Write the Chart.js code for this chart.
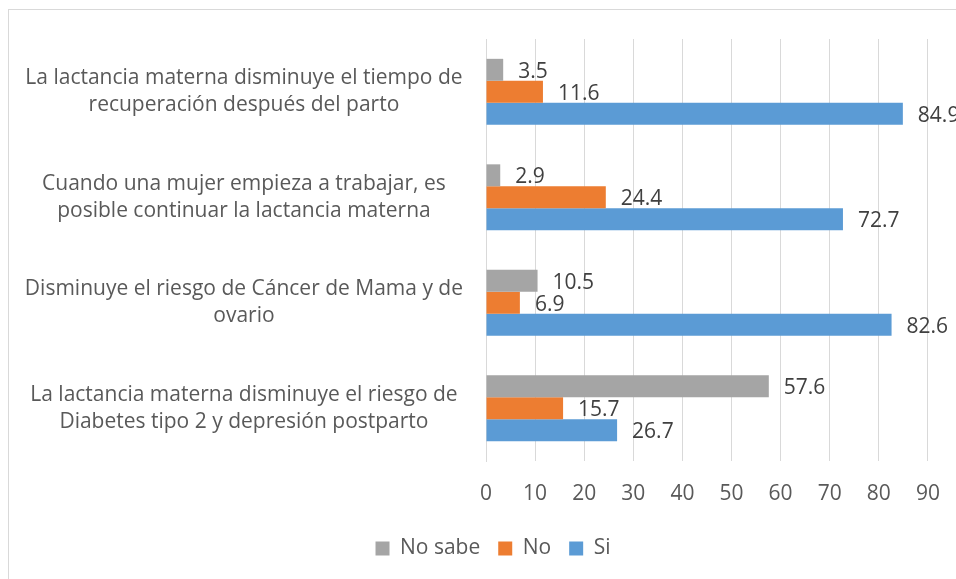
<!DOCTYPE html>
<html>
<head>
<meta charset="utf-8">
<script src="https://cdn.jsdelivr.net/npm/chart.js@4/dist/chart.umd.min.js"></script>
<style>
  html, body { margin: 0; padding: 0; overflow: hidden; background: #ffffff; width: 956px; height: 579px; }
  #frame { position: absolute; left: 8px; top: 9px; width: 968px; height: 600px; border: 1px solid #D9D9D9; background: #fff; }
  #wrap { position: absolute; left: 0; top: 0; width: 968px; height: 559px; }
</style>
</head>
<body>
<div id="frame"><div id="wrap"><canvas id="c"></canvas></div></div>
<script>
const categories = [
  ["La lactancia materna disminuye el tiempo de", "recuperación después del parto"],
  ["Cuando una mujer empieza a trabajar, es", "posible continuar la lactancia materna"],
  ["Disminuye el riesgo de Cáncer de Mama y de", "ovario"],
  ["La lactancia materna disminuye el riesgo de", "Diabetes tipo 2 y depresión postparto"]
];
const seriesNames = ["No sabe", "No", "Si"];
const noSabe = [3.5, 2.9, 10.5, 57.6];
const no = [11.6, 24.4, 6.9, 15.7];
const si = [84.9, 72.7, 82.6, 26.7];
const xTicks = [0, 10, 20, 30, 40, 50, 60, 70, 80, 90];
const colors = ["#A5A5A5", "#ED7D31", "#5B9BD5"];

const FONT = "'Open Sans'";

const valueLabels = {
  id: 'valueLabels',
  afterDatasetsDraw(chart) {
    const ctx = chart.ctx;
    ctx.save();
    ctx.font = "21px " + FONT;
    ctx.fillStyle = "#404040";
    ctx.textAlign = "left";
    ctx.textBaseline = "middle";
    chart.data.datasets.forEach((ds, i) => {
      const meta = chart.getDatasetMeta(i);
      meta.data.forEach((bar, j) => {
        ctx.fillText(ds.data[j].toFixed(1), bar.x + 15, bar.y + 2);
      });
    });
    ctx.restore();
  }
};

new Chart(document.getElementById('c'), {
  type: 'bar',
  data: {
    labels: categories,
    datasets: [
      { label: seriesNames[0], data: noSabe, backgroundColor: colors[0] },
      { label: seriesNames[1], data: no, backgroundColor: colors[1] },
      { label: seriesNames[2], data: si, backgroundColor: colors[2] }
    ]
  },
  options: {
    indexAxis: 'y',
    responsive: true,
    maintainAspectRatio: false,
    animation: false,
    devicePixelRatio: 1,
    layout: { padding: { top: 29, left: 0, right: 0, bottom: 0 } },
    datasets: { bar: { categoryPercentage: 0.624, barPercentage: 1.0, borderWidth: 0 } },
    scales: {
      x: {
        min: 0, max: 100,
        afterBuildTicks(scale) { scale.ticks = xTicks.concat([100]).map(v => ({ value: v })); },
        afterFit(scale) { scale.height = 59; scale.paddingLeft = 0; scale.paddingRight = 0; },
        grid: { color: '#D9D9D9', lineWidth: 1, drawTicks: false },
        border: { display: false },
        ticks: {
          padding: 20,
          color: '#595959',
          font: { family: FONT, size: 21 },
          maxRotation: 0,
          autoSkip: false,
          callback: (v) => xTicks.includes(v) ? String(v) : ''
        }
      },
      y: {
        afterFit(scale) { scale.width = 477; scale.paddingTop = 0; scale.paddingBottom = 0; },
        grid: { display: false, drawTicks: false },
        border: { display: true, color: '#D9D9D9', width: 1 },
        ticks: {
          padding: 23,
          crossAlign: 'center',
          color: '#595959',
          font: { family: FONT, size: 21, lineHeight: 1.286 }
        }
      }
    },
    plugins: {
      legend: {
        position: 'bottom',
        labels: {
          boxWidth: 14, boxHeight: 14, padding: 18,
          color: '#595959',
          font: { family: FONT, size: 21 }
        }
      },
      tooltip: { enabled: false }
    }
  },
  plugins: [valueLabels]
});
</script>
</body>
</html>
